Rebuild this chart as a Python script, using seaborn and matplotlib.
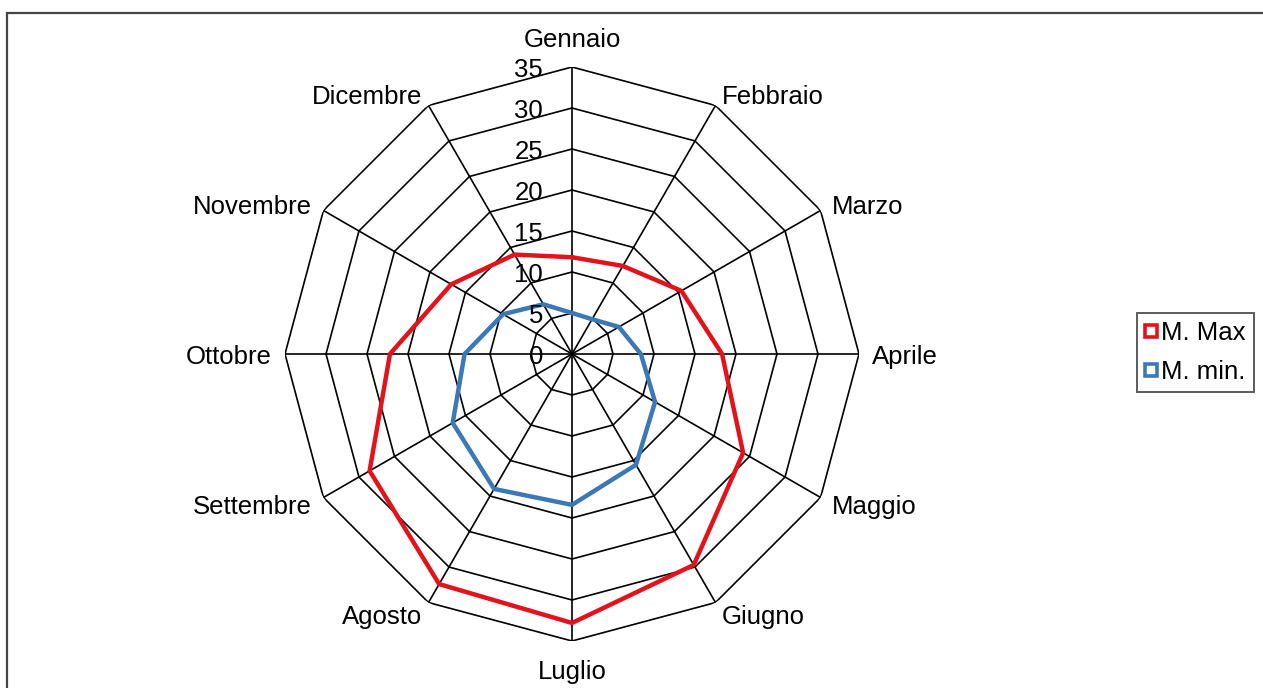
"""Radar chart of monthly mean max / min temperatures."""

import matplotlib
matplotlib.use("Agg")
import matplotlib.pyplot as plt
from matplotlib.lines import Line2D
from matplotlib.patches import Rectangle
import numpy as np
import seaborn as sns

months = ["Gennaio", "Febbraio", "Marzo", "Aprile", "Maggio", "Giugno",
          "Luglio", "Agosto", "Settembre", "Ottobre", "Novembre", "Dicembre"]
temp_max = [11.8, 12.4, 15.4, 18.3, 24.1, 29.7, 32.8, 32.4, 28.5, 22.2, 17.0, 14.0]
temp_min = [5.0, 4.9, 6.6, 8.4, 11.7, 15.6, 18.4, 19.0, 16.8, 13.1, 9.7, 7.0]
series_names = ["M. Max", "M. min."]
radial_ticks = [0, 5, 10, 15, 20, 25, 30, 35]

RED = "#e3121b"
BLUE = "#3a78b6"

sns.set_style("white")
plt.rcParams["font.family"] = ["Liberation Sans", "DejaVu Sans"]
plt.rcParams["font.size"] = 18.5
plt.rcParams["text.color"] = "black"

W, H = 1263, 688
fig = plt.figure(figsize=(W / 100, H / 100), dpi=100)

# outer frame (cut by the right and bottom edges)
fig.patches.append(Rectangle((7 / W, -0.1), 1.2, 1 - 13 / H + 0.1,
                             transform=fig.transFigure, fill=False,
                             edgecolor="#444444", linewidth=1.6))

cx, cy, R = 572, 354, 287
ax = fig.add_axes([(cx - R) / W, (H - cy - R) / H, 2 * R / W, 2 * R / H],
                  projection="polar")
ax.set_theta_zero_location("N")
ax.set_theta_direction(-1)
ax.set_ylim(0, radial_ticks[-1])
ax.grid(False)
ax.spines["polar"].set_visible(False)
ax.set_xticks([])
ax.set_yticks([])
ax.patch.set_alpha(0)

theta = np.linspace(0, 2 * np.pi, len(months), endpoint=False)
theta_closed = np.append(theta, 2 * np.pi)

# polygonal grid + spokes
for r in radial_ticks[1:]:
    ax.plot(theta_closed, [r] * len(theta_closed), color="black", lw=1.2, zorder=1)
for t in theta:
    ax.plot([t, t], [0, radial_ticks[-1]], color="black", lw=1.2, zorder=1)

sns.lineplot(x=theta_closed, y=temp_max + temp_max[:1], ax=ax, color=RED,
             linewidth=3.2, sort=False, legend=False, zorder=3)
sns.lineplot(x=theta_closed, y=temp_min + temp_min[:1], ax=ax, color=BLUE,
             linewidth=3.2, sort=False, legend=False, zorder=3)
ax.set_ylim(0, radial_ticks[-1])

# radial tick labels along the Gennaio spoke
for r in radial_ticks:
    ax.annotate(str(r), xy=(0, r), xytext=(-29, -3), textcoords="offset pixels",
                ha="right", va="center", fontsize=18.5, annotation_clip=False)

# month labels
for t, name in zip(theta, months):
    deg = np.degrees(t)
    if np.isclose(deg, 0):
        ha, va, dy = "center", "bottom", 2
    elif np.isclose(deg, 180):
        ha, va, dy = "center", "top", -6
    elif deg < 180:
        ha, va, dy = "left", "center", -3
    else:
        ha, va, dy = "right", "center", -3
    ax.annotate(name, xy=(t, 36.6), xytext=(0, dy), textcoords="offset pixels",
                ha=ha, va=va, fontsize=18.5, annotation_clip=False)

handles = [Line2D([], [], linestyle="none", marker="s", markersize=8,
                  markerfacecolor="white", markeredgecolor=c, markeredgewidth=2.6)
           for c in (RED, BLUE)]
leg = fig.legend(handles, series_names, loc="upper left",
                 bbox_to_anchor=(1137 / W, 1 - 313 / H), borderaxespad=0,
                 frameon=True, fancybox=False, handlelength=0.5,
                 handletextpad=0.15, labelspacing=0.6, borderpad=0.3,
                 fontsize=18.5)
leg.get_frame().set_edgecolor("#333333")
leg.get_frame().set_linewidth(1.4)

fig.savefig("out.png", dpi=100)
